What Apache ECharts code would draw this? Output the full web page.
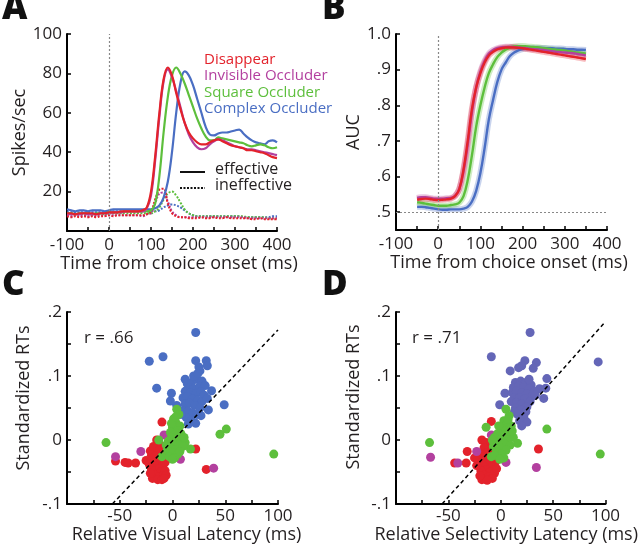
<!DOCTYPE html>
<html><head><meta charset="utf-8">
<script src="https://cdn.jsdelivr.net/npm/echarts@6/dist/echarts.min.js"></script>
<style>html,body{margin:0;padding:0;background:#fff}#c{width:640px;height:548px}</style>
</head><body><div id="c"></div>
<script>
// ---------- Panel A: firing rate (spikes/sec) ----------
const timeA = [-100,-90,-80,-70,-60,-50,-40,-30,-20,-10,0,10,20,30,40,50,60,70,80,90,100,110,120,130,140,150,160,170,180,190,200,210,220,230,240,250,260,270,280,290,300,310,320,330,340,350,360,370,380,390,400];
const effDisappear = [9,9,8.5,9,9,9,9,8.5,9,9,9.5,9.5,9.5,10,10,10,10,10,10.5,12,20,38,60,77,83,79,70,62,55,50,47,45,44,44,45,46,46.5,45.5,44.5,43.5,43,42.5,42,41,41,40.5,40,39.5,38.5,37.5,37];
const effInvisible = [8.5,8.5,8.5,8.5,9,8.5,8.5,8.5,9,9,9,9.5,9.5,9.5,10,10,10,10,10,11.5,18,36,58,76,82,78,71,63,55,49,45,42.5,41.5,42,44,45.5,46.5,46,45,44,43,42.5,42,41.5,41.5,41,40.5,40,39.5,39,38.5];
const effSquare = [9,9,8.5,9,9,9,8.5,9,9,9,9.5,9.5,9.5,9.5,10,10,10,10,10,10,10.5,14,28,50,68,79,83,80,75,69,63,57,52,48,46,46,47.5,47,46.5,46,45.5,45,44.5,43.5,43,43.5,44,43.5,42.5,42,42.5];
const effComplex = [11,10.5,10,10.5,10.5,10,10.5,10.5,10.5,10,10.5,11,11,11,11,11,11,11,11,11,11,11.5,13,17,25,40,60,75,81,79,74,67,60,53,49,48.5,49.5,50,50,50.5,51,51.5,49.5,47.5,46,45,44.5,44,45.5,46,45];
const ineDisappear = [7.5,7,7.5,7,7.5,7,7.5,7,7.5,7.5,8,7.5,8,8,8,8,8,8,8,8.5,10,16,21,21.5,14,9,7.5,7,7,6.5,6.5,6.5,7,6.5,6.5,7,6.5,6.5,7,6.5,6.5,6.5,6.5,6.5,6,6,6.5,6,6,6,6];
const ineInvisible = [8,7.5,8,7.5,8,7.5,8,7.5,8,8,8,8,8,8,8,8,8,8,7.5,8.5,9,14,19,19.5,15,10,8,7,7,7,7,7,7,7,7,7,7,7,7,7,7,7,7,6.5,6.5,6.5,6.5,6.5,6.5,6.5,6.5];
const ineSquare = [8.5,8.5,8.5,8.5,8.5,8.5,8.5,8.5,8.5,8.5,9,9,9,9,9,9,9,9,9,9,9,10,12,16,19,20,18,14.5,11,9,8,7.5,7.5,7.5,7.5,7.5,7.5,7.5,7.5,7.5,7.5,7.5,7.5,7,7,7,7,7,6.5,6.5,6.5];
const ineComplex = [9.5,9.5,9.5,9.5,9.5,9.5,9.5,9.5,9.5,9.5,10,10,10,10,10,10,10,10,10,10,10,10,10.5,12,13,13.5,13,12,10.5,9,8,7.5,7.5,7.5,7.5,7.5,7.5,7.5,7.5,7.5,7.5,7.5,7,7,7,7,7,7,7,7.5,7.5];
const yTicksA = [20,40,60,80,100];
const xTicksA = [-100,0,100,200,300,400];

// ---------- Panel B: AUC ----------
const timeB = [-50,-40,-30,-20,-10,0,10,20,30,40,50,60,70,80,90,100,110,120,130,140,150,160,170,180,190,200,210,220,230,240,250,260,270,280,290,300,310,320,330,340,350];
const aucDisappear = [0.535,0.537,0.538,0.537,0.535,0.534,0.535,0.536,0.538,0.545,0.565,0.62,0.70,0.79,0.85,0.89,0.92,0.94,0.95,0.957,0.96,0.962,0.962,0.962,0.961,0.96,0.958,0.956,0.954,0.952,0.95,0.948,0.946,0.944,0.942,0.94,0.938,0.936,0.934,0.932,0.93];
const aucInvisible = [0.54,0.542,0.542,0.54,0.538,0.538,0.538,0.539,0.54,0.546,0.565,0.615,0.69,0.78,0.85,0.895,0.925,0.945,0.955,0.96,0.963,0.964,0.964,0.963,0.962,0.961,0.96,0.958,0.957,0.956,0.955,0.953,0.952,0.95,0.949,0.948,0.947,0.946,0.944,0.942,0.94];
const aucSquare = [0.528,0.526,0.524,0.522,0.52,0.518,0.518,0.518,0.52,0.522,0.527,0.545,0.59,0.66,0.74,0.80,0.85,0.89,0.915,0.935,0.948,0.956,0.962,0.965,0.966,0.966,0.965,0.964,0.963,0.962,0.96,0.959,0.957,0.956,0.955,0.954,0.952,0.95,0.948,0.947,0.945];
const aucComplex = [0.515,0.515,0.514,0.512,0.51,0.508,0.507,0.507,0.508,0.508,0.508,0.51,0.515,0.53,0.56,0.61,0.68,0.76,0.815,0.865,0.9,0.92,0.938,0.948,0.954,0.958,0.96,0.961,0.961,0.961,0.961,0.96,0.96,0.959,0.959,0.958,0.957,0.957,0.956,0.956,0.955];
const yTicksB = [0.5,0.6,0.7,0.8,0.9,1.0];
const xTicksB = [-100,0,100,200,300,400];

// ---------- Panel C: RT vs relative visual latency ----------
const cDisappear = [[-10,0.028],[22,-0.014],[32,-0.046],[-54,-0.033],[-45,-0.035],[-35,-0.036],[-42,-0.036],[-21,-0.017],[-25,-0.032],
 [-15,0.0],[-13,-0.006],[-18,-0.01],[-10,-0.012],[-14,-0.018],[-20,-0.024],[-8,-0.02],[-16,-0.025],[-11,-0.028],[-19,-0.03],[-6,-0.03],[-13,-0.035],[-17,-0.038],[-9,-0.04],[-15,-0.045],[-20,-0.045],[-11,-0.05],[-7,-0.048],[-17,-0.055],[-13,-0.058],[-9,-0.056],[-19,-0.06],[-14,-0.062],[-10,-0.062],[-6,-0.055],[-22,-0.038],[-12,-0.015],[-7,-0.035],[-4,-0.01],[-21,-0.052],[-8,-0.06]];
const cInvisible = [[-54,-0.026],[-30,-0.018],[7.5,-0.03],[39,-0.044],[-8,0.008]];
const cSquare = [[-63,-0.004],[45,0.009],[51,0.017],[96,-0.022],[12,-0.004],[17,-0.014],[-10,-0.026],[-13,0.0],
 [4,0.048],[6,0.04],[1,0.033],[3,0.028],[7,0.022],[0,0.02],[5,0.015],[-2,0.012],[2,0.008],[8,0.01],[-1,0.004],[4,0.002],[9,0.0],[-4,-0.002],[1,-0.006],[6,-0.008],[-2,-0.012],[3,-0.015],[10,-0.01],[-5,-0.016],[0,-0.02],[5,-0.022],[-3,-0.026],[2,-0.028],[7,-0.018],[-6,-0.008],[11,0.004],[-1,0.026],[3,0.036],[0,-0.03]];
const cComplex = [[22,0.168],[-22,0.123],[-9,0.13],[-15,0.081],[22,0.124],[32,0.124],[33,0.116],[25,0.114],[26,0.108],[12,0.095],[37,0.077],[49,0.055],[34,0.047],[-1,0.073],[-2,0.061],[4,0.054],
 [14,0.088],[18,0.09],[23,0.095],[28,0.092],[16,0.082],[20,0.08],[26,0.084],[31,0.085],[12,0.076],[17,0.074],[22,0.072],[27,0.075],[30,0.07],[10,0.066],[14,0.068],[19,0.064],[24,0.062],[28,0.06],[12,0.056],[16,0.058],[21,0.054],[26,0.05],[10,0.046],[15,0.045],[19,0.042],[23,0.04],[27,0.038],[13,0.035],[18,0.03],[22,0.026],[15,0.025],[8,0.04],[33,0.065],[20,0.1],[24,0.104]];
const cFit = [[-57,-0.1],[100,0.172]];
const cR = 'r = .66';

// ---------- Panel D: RT vs relative selectivity latency ----------
const dDisappear = [[-9,0.029],[36,-0.014],[-18,0.0],[-32,-0.018],[-44,-0.036],[-33,-0.036],
 [-14,-0.004],[-11,-0.01],[-16,-0.012],[-8,-0.016],[-13,-0.02],[-19,-0.022],[-6,-0.024],[-15,-0.028],[-10,-0.03],[-21,-0.032],[-5,-0.034],[-12,-0.036],[-17,-0.04],[-8,-0.042],[-14,-0.046],[-19,-0.048],[-10,-0.05],[-6,-0.052],[-16,-0.055],[-12,-0.058],[-8,-0.06],[-18,-0.062],[-13,-0.063],[-23,-0.04],[-25,-0.028],[-4,-0.045],[-20,-0.056]];
const dInvisible = [[-67,-0.027],[-41,-0.036],[-23,-0.018],[5,-0.035],[34,-0.043],[-9,0.008]];
const dSquare = [[-68,-0.004],[44,0.017],[95,-0.022],[16,-0.005],[-14,0.02],[-9,-0.026],
 [5,0.048],[8,0.038],[3,0.03],[6,0.026],[10,0.022],[1,0.018],[-2,0.022],[5,0.014],[9,0.01],[-3,0.01],[2,0.006],[12,0.004],[-6,0.004],[0,0.0],[6,0.0],[-4,-0.004],[3,-0.006],[9,-0.008],[-7,-0.01],[-1,-0.012],[5,-0.016],[-4,-0.018],[1,-0.022],[-6,-0.024],[3,-0.028],[-1,-0.03],[11,0.014],[-8,0.0],[7,0.032]];
const dComplex = [[28,0.168],[-9,0.13],[93,0.122],[23,0.124],[34,0.121],[20,0.116],[9,0.108],[44,0.096],[37,0.08],[41,0.065],[4,0.073],[-1,0.055],[17,0.113],[31,0.112],[43,0.081],
 [14,0.09],[19,0.092],[24,0.09],[29,0.086],[12,0.082],[17,0.084],[22,0.082],[27,0.08],[32,0.076],[11,0.074],[15,0.076],[20,0.073],[25,0.072],[30,0.068],[13,0.066],[18,0.066],[23,0.064],[28,0.06],[10,0.06],[15,0.058],[20,0.056],[25,0.052],[14,0.05],[19,0.047],[24,0.044],[16,0.04],[22,0.036],[18,0.03],[25,0.028],[20,0.022],[13,0.044],[33,0.07],[27,0.095]];
const dFit = [[-56,-0.1],[100,0.185]];
const dR = 'r = .71';
const yTicksCD = [-0.1,0,0.1,0.2];
const xTicksCD = [-50,0,50,100];

const conditionNames = ['Disappear','Invisible Occluder','Square Occluder','Complex Occluder'];
const lineKinds = ['effective','ineffective'];

// ---------- styling ----------
const FONT = 'Open Sans';
const TXT = '#231f20';
const RED = '#e3222b', MAG = '#b3409f', GRN = '#5dbf3c', BLU = '#4a6ec3', BLUD = '#6466b7';

function ax(gi, min, max, labels, ticks, fmt, name, gap, nameGap, namePad) {
  return {
    type: 'value', gridIndex: gi, min: min, max: max,
    name: name, nameLocation: 'middle', nameGap: nameGap,
    nameTextStyle: {fontFamily: FONT, fontSize: 18, color: TXT, padding: namePad},
    axisLine: {onZero: false, lineStyle: {color: '#000', width: 2}},
    axisTick: {inside: true, length: 4, lineStyle: {color: '#000', width: 1.5}, customValues: ticks},
    axisLabel: {fontFamily: FONT, fontSize: 17, color: TXT, margin: gap, customValues: labels, formatter: fmt},
    splitLine: {show: false}
  };
}
const fmtInt = v => String(Math.round(v));
const fmtDec = v => {
  if (Math.abs(v - 1) < 1e-9) return '1.0';
  if (Math.abs(v) < 1e-9) return '0';
  const n = Math.round(v * 10);
  return (n < 0 ? '-' : '') + '.' + Math.abs(n);
};
function range(a, b, s) { const r = []; for (let v = a; v <= b + 1e-9; v += s) r.push(+v.toFixed(4)); return r; }

const xA = ax(0, -100, 400, xTicksA, range(-100, 400, 50), fmtInt, 'Time from choice onset (ms)', 6, 22, [0, 0, 0, 14]);
const yA = ax(0, 0, 100, yTicksA, range(0, 100, 20), fmtInt, 'Spikes/sec', 5, 33, [0, 0, 0, 0]);
const xB = ax(1, -100, 400, xTicksB, range(-100, 400, 50), fmtInt, 'Time from choice onset (ms)', 6, 22, [0, 0, 0, 15]);
const yB = ax(1, 0.45, 1.0, yTicksB, range(0.5, 1.0, 0.1), fmtDec, 'AUC', 5, 30, [0, 0, 0, 0]);
const xC = ax(2, -100, 100, xTicksCD, range(-100, 100, 25), fmtInt, 'Relative Visual Latency (ms)', 4, 21, [0, 0, 0, 28]);
const yC = ax(2, -0.1, 0.2, yTicksCD, range(-0.1, 0.2, 0.05), fmtDec, 'Standardized RTs', 5, 34, [0, 0, 0, 20]);
const xD = ax(3, -100, 100, xTicksCD, range(-100, 100, 25), fmtInt, 'Relative Selectivity Latency (ms)', 4, 21, [0, 0, 0, 11]);
const yD = ax(3, -0.1, 0.2, yTicksCD, range(-0.1, 0.2, 0.05), fmtDec, 'Standardized RTs', 5, 33, [0, 0, 0, 22]);

const pair = (xs, ys) => xs.map((x, i) => [x, ys[i]]);
const series = [];
const refLine = {type: [2, 2], color: '#888', width: 1.2};

// Panel A
const aCols = [BLU, GRN, MAG, RED];
const aEff = [effComplex, effSquare, effInvisible, effDisappear];
const aIne = [ineComplex, ineSquare, ineInvisible, ineDisappear];
aIne.forEach((d, i) => series.push({type: 'line', xAxisIndex: 0, yAxisIndex: 0, data: pair(timeA, d), smooth: 0.4, symbol: 'none',
  lineStyle: {color: aCols[i], width: 2, type: [2, 1.5]}, z: 2}));
aEff.forEach((d, i) => series.push({type: 'line', xAxisIndex: 0, yAxisIndex: 0, data: pair(timeA, d), smooth: 0.4, symbol: 'none',
  lineStyle: {color: aCols[i], width: 2.2}, z: 3,
  markLine: i === 0 ? {silent: true, symbol: ['none', 'none'], label: {show: false}, lineStyle: refLine, data: [{xAxis: 0}]} : undefined}));

// Panel B
const bData = [aucComplex, aucSquare, aucInvisible, aucDisappear];
bData.forEach((d, i) => series.push({type: 'line', xAxisIndex: 1, yAxisIndex: 1, data: pair(timeB, d), smooth: 0.4, symbol: 'none',
  lineStyle: {color: aCols[i], width: 6, opacity: 0.3}, z: 2,
  markLine: i === 0 ? {silent: true, symbol: ['none', 'none'], label: {show: false}, lineStyle: refLine, data: [{xAxis: 0}, {yAxis: 0.5}]} : undefined}));
bData.forEach((d, i) => series.push({type: 'line', xAxisIndex: 1, yAxisIndex: 1, data: pair(timeB, d), smooth: 0.4, symbol: 'none',
  lineStyle: {color: aCols[i], width: 2.4}, z: 3}));

// Panels C and D
function scat(gi, data, color) {
  return {type: 'scatter', xAxisIndex: gi, yAxisIndex: gi, data: data, symbolSize: 9, itemStyle: {color: color, opacity: 1}, z: 3};
}
series.push(scat(2, cDisappear, RED), scat(2, cInvisible, MAG), scat(2, cComplex, BLU), scat(2, cSquare, GRN));
series.push({type: 'line', xAxisIndex: 2, yAxisIndex: 2, data: cFit, symbol: 'none', lineStyle: {color: '#000', width: 1.5, type: [4, 3]}, z: 5});
series.push(scat(3, dDisappear, RED), scat(3, dInvisible, MAG), scat(3, dComplex, BLUD), scat(3, dSquare, GRN));
series.push({type: 'line', xAxisIndex: 3, yAxisIndex: 3, data: dFit, symbol: 'none', lineStyle: {color: '#000', width: 1.5, type: [4, 3]}, z: 5});

const bigLetter = (t, x, y) => ({type: 'text', left: x, top: y, style: {text: t, font: '800 35px "Open Sans"', fill: '#111'}});
const legCols = [RED, MAG, GRN, BLU];
const graphic = [
  bigLetter('A', 2, -8), bigLetter('B', 322, -8), bigLetter('C', 2, 268), bigLetter('D', 322, 268),
  ...conditionNames.map((n, i) => ({type: 'text', left: 204, top: 52 + i * 16.5, z: 10,
    style: {text: n, font: '15px "Open Sans"', fill: legCols[i]}})),
  {type: 'line', shape: {x1: 180, y1: 172, x2: 205, y2: 172}, style: {stroke: '#111', lineWidth: 2}},
  {type: 'line', shape: {x1: 180, y1: 188, x2: 205, y2: 188}, style: {stroke: '#111', lineWidth: 2, lineDash: [2, 1.5]}},
  {type: 'text', left: 215, top: 161, style: {text: lineKinds[0], font: '16px "Open Sans"', fill: TXT}},
  {type: 'text', left: 215, top: 177, style: {text: lineKinds[1], font: '16px "Open Sans"', fill: TXT}},
  {type: 'text', left: 84, top: 330, style: {text: cR, font: '17px "Open Sans"', fill: TXT}},
  {type: 'text', left: 412, top: 330, style: {text: dR, font: '17px "Open Sans"', fill: TXT}}
];

const chart = echarts.init(document.getElementById('c'));
chart.setOption({
  animation: false,
  backgroundColor: '#fff',
  grid: [
    {left: 67, top: 34, width: 210, height: 197},
    {left: 396, top: 34, width: 211, height: 196},
    {left: 67, top: 312, width: 211, height: 192},
    {left: 396, top: 312, width: 211, height: 192}
  ],
  xAxis: [xA, xB, xC, xD],
  yAxis: [yA, yB, yC, yD],
  series: series,
  graphic: graphic
});
</script></body></html>
